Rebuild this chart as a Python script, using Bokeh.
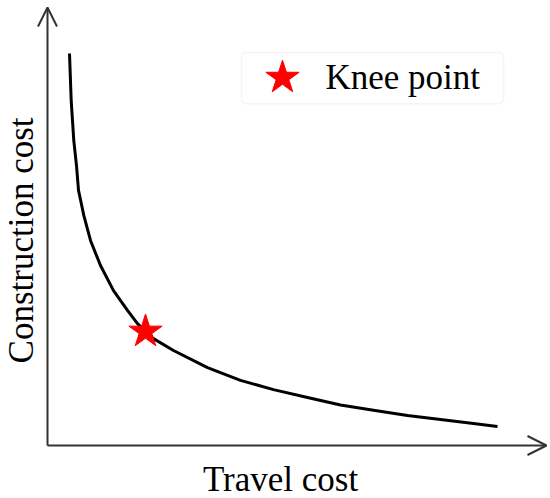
import math
from bokeh.plotting import figure
from bokeh.models import Range1d, Arrow, OpenHead, Label, BoxAnnotation
from bokeh.embed import file_html
from bokeh.resources import INLINE

# Pareto front (abstract units): travel cost vs construction cost
travel_cost = [0.44, 0.474, 0.526, 0.58, 0.62, 0.726, 0.86, 1.06, 1.32, 1.60, 1.80,
               1.96, 2.12, 2.52, 3.20, 3.86, 4.52, 5.20, 5.86, 6.52, 7.20, 7.86,
               8.52, 9.00]
construction_cost = [8.91, 7.84, 6.93, 6.36, 5.80, 5.23, 4.66, 4.09, 3.52, 3.07, 2.77,
                     2.59, 2.43, 2.16, 1.77, 1.48, 1.27, 1.09, 0.92, 0.80, 0.68, 0.59,
                     0.50, 0.43]
knee_x = [1.96]
knee_y = [2.59]

x_label = "Travel cost"
y_label = "Construction cost"
legend_label = "Knee point"

FONT = "Liberation Serif"

p = figure(width=550, height=498, output_backend="svg", toolbar_location=None,
           x_range=Range1d(-0.94, 10.06), y_range=Range1d(-1.2045, 10.114),
           x_axis_type=None, y_axis_type=None, min_border=0)
p.outline_line_color = None
p.background_fill_color = "white"
p.border_fill_color = "white"

axis_color = "#333333"
p.add_layout(Arrow(x_start=0, y_start=0, x_end=9.98, y_end=0,
                   line_color=axis_color, line_width=2,
                   end=OpenHead(size=19, line_color=axis_color, line_width=2)))
p.add_layout(Arrow(x_start=0, y_start=0, x_end=0, y_end=9.955,
                   line_color=axis_color, line_width=2,
                   end=OpenHead(size=19, line_color=axis_color, line_width=2)))

p.line(travel_cost, construction_cost, line_color="black", line_width=3,
       line_join="round")
p.scatter(knee_x, knee_y, marker="star", size=35, color="#ff0000")

# legend
p.add_layout(BoxAnnotation(left=3.88, right=9.12, top=8.93, bottom=7.77,
                           fill_color="white", fill_alpha=1.0, level="underlay",
                           line_color="#d9d9d9", line_width=1.5, border_radius=5))
p.scatter([4.7], [8.36], marker="star", size=35, color="#ff0000")
p.add_layout(Label(x=5.56, y=8.37, text=legend_label, text_font=FONT,
                   text_font_size="35px", text_color="black",
                   text_baseline="alphabetic", text_align="left"))

# axis titles
p.add_layout(Label(x=4.66, y=-0.762, text=x_label, text_font=FONT,
                   text_font_size="35px", text_color="black",
                   text_baseline="alphabetic", text_align="center"))
p.add_layout(Label(x=-0.53, y=4.66, text=y_label, text_font=FONT,
                   text_font_size="35px", text_color="black", angle=math.pi / 2,
                   text_baseline="alphabetic", text_align="center"))

open("out.html", "w").write(file_html(p, INLINE))
